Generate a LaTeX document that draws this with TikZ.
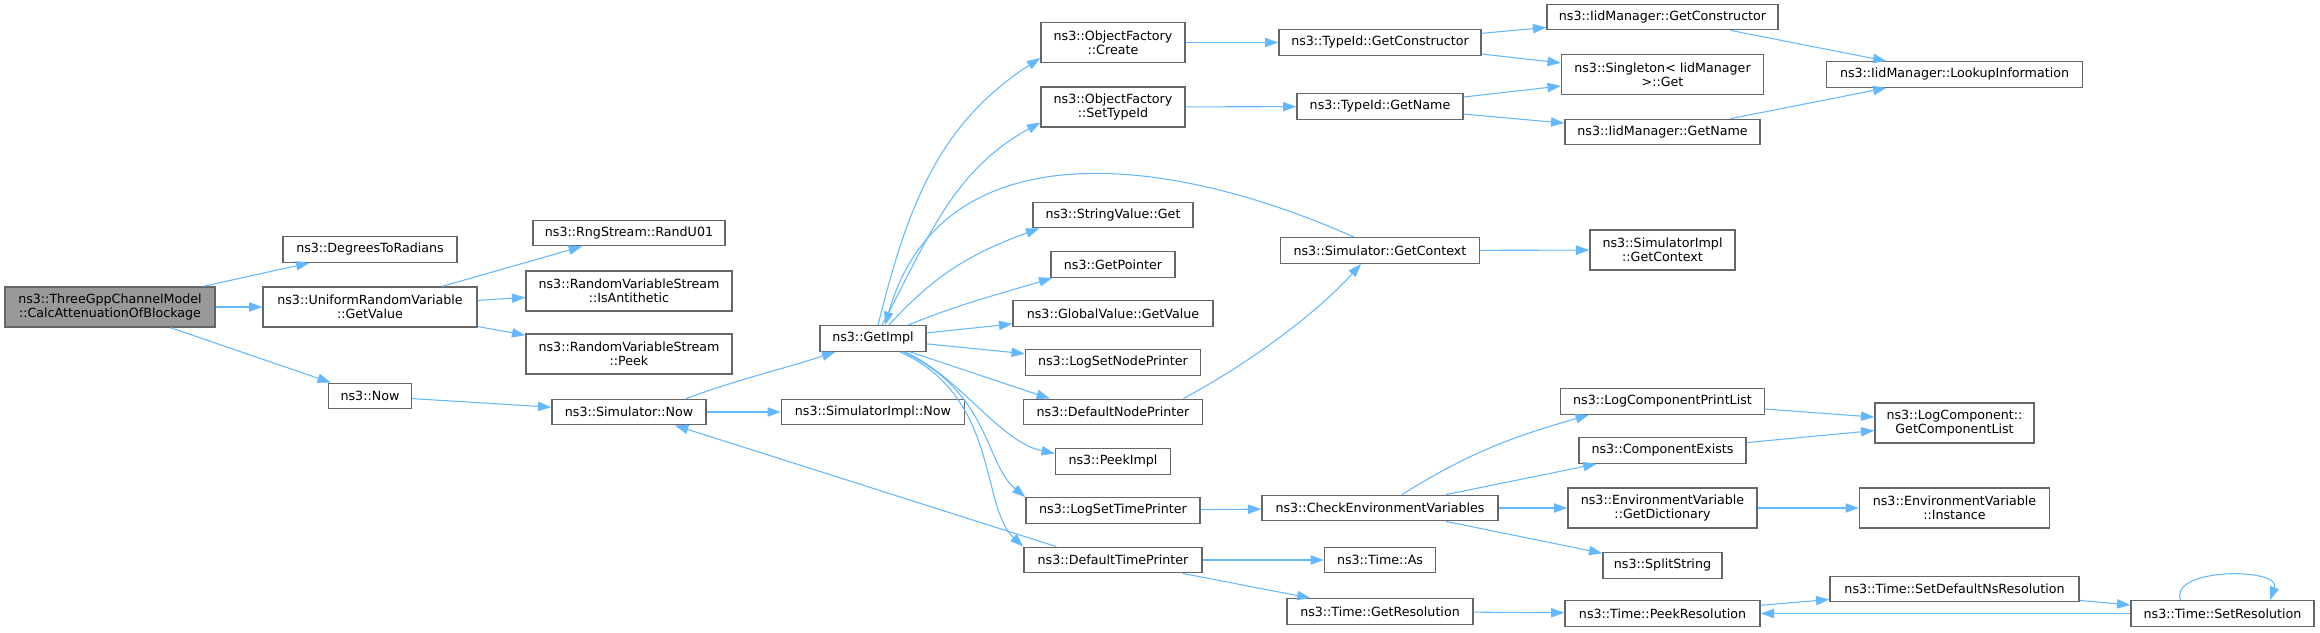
\documentclass[tikz,border=0pt]{standalone}
\usepackage{fontspec}
\setmainfont{DejaVu Sans}
\usetikzlibrary{arrows.meta}
\usetikzlibrary{calc}

\definecolor{edgeblue}{HTML}{63B8FF}
\definecolor{boxline}{HTML}{666666}
\definecolor{rootfill}{HTML}{999999}

\tikzset{
  func/.style={draw=boxline, fill=white, line width=1pt, inner sep=0pt, align=center,
    minimum width=#1*0.75pt, minimum height=25.5*0.75pt},
  func2/.style={func=#1, minimum height=40*0.75pt},
  callarrow/.style={draw=edgeblue, line width=0.8pt, -{Triangle[length=10pt,width=7pt]}}
}

\begin{document}
\begin{tikzpicture}[x=0.75pt, y=0.75pt, font=\fontsize{9.5}{10.5}\selectfont]
      \useasboundingbox (0,0) rectangle (2320,632);

      % Caller
      \node [func2=210, fill=rootfill] (root) at (110,325) {ns3::ThreeGppChannelModel\\::CalcAttenuationOfBlockage};

      % First level
      \node [func=174] (deg) at (370,382.5) {ns3::DegreesToRadians};
      \node [func2=214] (urv) at (370,325) {ns3::UniformRandomVariable\\::GetValue};
      \node [func=83] (now) at (370,236) {ns3::Now};

      % Random streams and simulator
      \node [func=192] (randu) at (629,399) {ns3::RngStream::RandU01};
      \node [func2=206] (anti) at (629,341) {ns3::RandomVariableStream\\::IsAntithetic};
      \node [func2=206] (peek) at (629,278) {ns3::RandomVariableStream\\::Peek};
      \node [func=154] (simnow) at (629,220) {ns3::Simulator::Now};
      \node [func=106] (getimpl) at (873,293.5) {ns3::GetImpl};
      \node [func=183] (implnow) at (873,220) {ns3::SimulatorImpl::Now};

      % Called by GetImpl
      \node [func2=144] (ofcreate) at (1113,589.5) {ns3::ObjectFactory\\::Create};
      \node [func2=144] (ofsettype) at (1113,525) {ns3::ObjectFactory\\::SetTypeId};
      \node [func=160] (strget) at (1113,417) {ns3::StringValue::Get};
      \node [func=124] (getptr) at (1113,367.5) {ns3::GetPointer};
      \node [func=200] (globalval) at (1113,318.5) {ns3::GlobalValue::GetValue};
      \node [func=175] (lognode) at (1113,269.5) {ns3::LogSetNodePrinter};
      \node [func=179] (defnode) at (1113,220) {ns3::DefaultNodePrinter};
      \node [func=115] (peekimpl) at (1113,170.5) {ns3::PeekImpl};
      \node [func=174] (logtime) at (1113,121.5) {ns3::LogSetTimePrinter};
      \node [func=178] (deftime) at (1113,72) {ns3::DefaultTimePrinter};

      % Third column
      \node [func=202] (tidctor) at (1380,589.5) {ns3::TypeId::GetConstructor};
      \node [func=166] (tidname) at (1380,525.5) {ns3::TypeId::GetName};
      \node [func=199] (simctx) at (1380,381.5) {ns3::Simulator::GetContext};
      \node [func=236] (checkenv) at (1380,124) {ns3::CheckEnvironmentVariables};
      \node [func=111] (timeas) at (1380,72) {ns3::Time::As};
      \node [func=186] (timeres) at (1380,20.5) {ns3::Time::GetResolution};

      % Fourth column
      \node [func=231] (iidctor) at (1662.5,615) {ns3::IidManager::GetConstructor};
      \node [func2=202] (singleton) at (1662.5,557.5) {ns3::Singleton< IidManager\\ >::Get};
      \node [func=195] (iidname) at (1662.5,500) {ns3::IidManager::GetName};
      \node [func2=145] (implctx) at (1662.5,382) {ns3::SimulatorImpl\\::GetContext};
      \node [func=204] (logprint) at (1662.5,230.5) {ns3::LogComponentPrintList};
      \node [func=167] (compexists) at (1662.5,181.5) {ns3::ComponentExists};
      \node [func2=189] (envdict) at (1662.5,124) {ns3::EnvironmentVariable\\::GetDictionary};
      \node [func=119] (split) at (1662.5,66.5) {ns3::SplitString};
      \node [func=195] (peekres) at (1662.5,18.5) {ns3::Time::PeekResolution};

      % Last columns
      \node [func=256] (lookup) at (1954.5,557.5) {ns3::IidManager::LookupInformation};
      \node [func2=159] (complist) at (1954.5,209) {ns3::LogComponent::\\GetComponentList};
      \node [func2=190] (envinst) at (1954.5,124) {ns3::EnvironmentVariable\\::Instance};
      \node [func=249] (setdefres) at (1954.5,43) {ns3::Time::SetDefaultNsResolution};
      \node [func=183] (setres) at (2222.5,18.5) {ns3::Time::SetResolution};

      % Edges
      \draw [callarrow] (root) -- (deg);
      \draw [callarrow] (root) -- (urv);
      \draw [callarrow] (root) -- (now);
      \draw [callarrow] (urv) -- (randu);
      \draw [callarrow] (urv) -- (anti);
      \draw [callarrow] (urv) -- (peek);
      \draw [callarrow] (now) -- (simnow);
      \draw [callarrow] ($(simnow.north)+(57,0)$) to [out=20,in=198] ($(getimpl.south west)+(16,0)$);
      \draw [callarrow] (simnow) -- (implnow);
      \draw [callarrow] ($(deftime.north west)+(33,0)$) -- ($(simnow.south)+(46,0)$);

      % Edges out of GetImpl
      \draw [callarrow] ($(getimpl.north)+(5,0)$) to [out=76,in=213] (ofcreate.192);
      \draw [callarrow] ($(getimpl.north)+(9,0)$) to [out=62,in=209] (ofsettype.192);
      \draw [callarrow] ($(getimpl.north)+(16,0)$) to [out=48,in=200] ($(strget.south west)+(7,0)$);
      \draw [callarrow] ($(getimpl.north)+(35,0)$) to [out=22,in=197] ($(getptr.south west)+(2,0)$);
      \draw [callarrow] (getimpl) -- (globalval);
      \draw [callarrow] (getimpl) -- (lognode);
      \draw [callarrow] ($(getimpl.south)+(37,0)$) -- ($(defnode.north west)+(27,0)$);
      \draw [callarrow] ($(getimpl.south)+(32,0)$) .. controls (960,255) and (1000,190) .. ($(peekimpl.west)+(0,8)$);
      \draw [callarrow] ($(getimpl.south)+(30,0)$) .. controls (990,240) and (985,168) .. (logtime.north west);
      \draw [callarrow] ($(getimpl.south)+(27,0)$) .. controls (1000,235) and (980,125) .. (deftime.north west);
      \draw [callarrow] ($(simctx.north)+(-26,0)$) to [out=156,in=74,looseness=1.1] ($(getimpl.north)+(12,0)$);
      \draw [callarrow] ($(defnode.north east)+(-20,0)$) to [out=28,in=228,looseness=0.8] ($(simctx.south)+(-19,0)$);

      % Type ids
      \draw [callarrow] (ofcreate) -- (tidctor);
      \draw [callarrow] (ofsettype) -- (tidname);
      \draw [callarrow] (tidctor) -- (iidctor);
      \draw [callarrow] (tidctor) -- (singleton);
      \draw [callarrow] (tidname) -- (singleton);
      \draw [callarrow] (tidname) -- (iidname);
      \draw [callarrow] (iidctor) -- (lookup);
      \draw [callarrow] (iidname) -- (lookup);
      \draw [callarrow] (simctx) -- (implctx);

      % Environment and time
      \draw [callarrow] (logtime) -- (checkenv);
      \draw [callarrow] (deftime) -- (timeas);
      \draw [callarrow] (deftime) -- (timeres);
      \draw [callarrow] ($(checkenv.north)+(22,0)$) to [out=32,in=196] ($(logprint.south west)+(29,0)$);
      \draw [callarrow] (checkenv) -- (compexists);
      \draw [callarrow] (checkenv) -- (envdict);
      \draw [callarrow] (checkenv) -- (split);
      \draw [callarrow] (logprint) -- (complist);
      \draw [callarrow] (compexists) -- (complist);
      \draw [callarrow] (envdict) -- (envinst);
      \draw [callarrow] (timeres) -- (peekres);
      \draw [callarrow] (peekres) -- (setdefres);
      \draw [callarrow] (setdefres) -- (setres);
      \draw [callarrow] (setres) -- (peekres);
      \draw [callarrow] ($(setres.north)+(-42,0)$) to [out=110,in=70] ($(setres.north)+(47.5,0)$);
\end{tikzpicture}
\end{document}
